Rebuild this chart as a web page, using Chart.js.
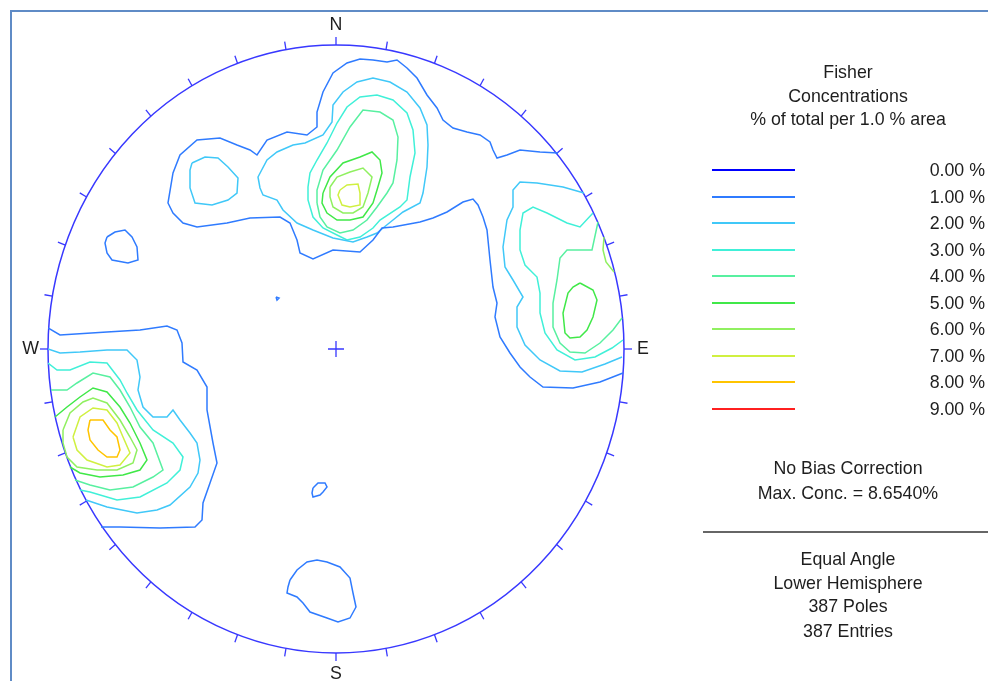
<!DOCTYPE html>
<html>
<head>
<meta charset="utf-8">
<title>Fisher Concentrations</title>
<script src="https://cdn.jsdelivr.net/npm/chart.js@4.4.0/dist/chart.umd.min.js"></script>
<style>
  html, body { margin: 0; padding: 0; background: #ffffff; }
  #wrap { position: relative; width: 988px; height: 681px; overflow: hidden;
          font-family: "Liberation Sans", Arial, sans-serif; color: #1e1e1e; }
  #frame { position: absolute; left: 10px; top: 10px; width: 1200px; height: 900px;
           border-left: 2px solid #5f8bc6; border-top: 2px solid #5f8bc6; }
  #net { position: absolute; left: 0; top: 0; }
  .t { position: absolute; font-size: 17.8px; line-height: 22px; white-space: nowrap; }
  .c { width: 300px; left: 698px; text-align: center; }
  .lab { right: 3px; text-align: right; }
  .swatch { position: absolute; left: 712px; width: 83px; height: 2px; }
  #sep { position: absolute; left: 703px; top: 531px; width: 285px; height: 2px; background: #666; }
</style>
</head>
<body>
<div id="wrap">
  <div id="frame"></div>
  <canvas id="net" width="988" height="681"></canvas>
  <div class="t c" style="top:61px">Fisher</div>
  <div class="t c" style="top:85px">Concentrations</div>
  <div class="t c" style="top:108px">% of total per 1.0 % area</div>
  <div id="legend"></div>
  <div class="t c" style="top:457px">No Bias Correction</div>
  <div class="t c" style="top:482px">Max. Conc. = 8.6540%</div>
  <div id="sep"></div>
  <div class="t c" style="top:548px">Equal Angle</div>
  <div class="t c" style="top:572px">Lower Hemisphere</div>
  <div class="t c" style="top:595px">387 Poles</div>
  <div class="t c" style="top:620px">387 Entries</div>
</div>
<script>
// Contour levels (% of total per 1.0 % area) and their line colours
const levelLabels = ['0.00 %', '1.00 %', '2.00 %', '3.00 %', '4.00 %', '5.00 %', '6.00 %', '7.00 %', '8.00 %', '9.00 %'];
const levelColors = ['#0000ff', '#2f7bff', '#40c8f8', '#40f0d8', '#58f0a0', '#40e848', '#90f060', '#d0f040', '#ffc400', '#ff2020'];

// Projected net extent (east-west and north-south radius of the primitive)
const NET_RX = 288;
const NET_RY = 304;

// Contour traces in projected net units (x east, y north), open traces end on the primitive
const c1NorthEast = [[222,196],[204,197],[184,199],[171,194],[161,191],[157,199],[154,207],[144,214],[131,217],[117,221],[107,229],[101,241],[91,254],[81,271],[71,281],[61,289],[51,287],[37,289],[24,290],[11,286],[-3,276],[-13,257],[-19,237],[-19,222],[-29,214],[-49,217],[-69,209],[-79,194],[-86,199],[-99,204],[-116,211],[-139,209],[-156,194],[-163,176],[-168,146],[-163,136],[-153,126],[-139,122],[-109,126],[-86,131],[-56,132],[-46,126],[-39,109],[-36,96],[-23,90],[-3,99],[24,97],[37,109],[46,121],[57,122],[84,127],[97,131],[111,137],[127,147],[137,150],[142,144],[147,132],[151,119],[154,89],[157,62],[161,46],[159,32],[164,12],[174,-4],[184,-18],[194,-28],[207,-38],[237,-39],[264,-33],[287,-24]];
const c1West = [[-288,21],[-276,14],[-229,17],[-196,19],[-169,23],[-159,19],[-154,6],[-153,-13],[-139,-21],[-129,-38],[-129,-61],[-123,-94],[-119,-114],[-126,-134],[-133,-154],[-134,-171],[-141,-178],[-176,-179],[-216,-178],[-235,-178]];
const c1NorthWestSmall = [[-229,112],[-221,117],[-211,119],[-204,112],[-199,102],[-198,89],[-208,86],[-224,89],[-229,96],[-231,106],[-229,112]];
const c1CentreDot = [[-60,52],[-57,51],[-59,49],[-60,52]];
const c1SouthSmall = [[-23,-139],[-18,-134],[-11,-134],[-9,-138],[-13,-143],[-16,-146],[-23,-148],[-24,-144],[-23,-139]];
const c1South = [[-46,-231],[-39,-221],[-29,-213],[-19,-211],[-9,-213],[4,-218],[14,-229],[17,-244],[20,-258],[14,-269],[2,-273],[-9,-269],[-26,-263],[-33,-254],[-39,-248],[-49,-244],[-48,-238],[-46,-231]];

const c2NorthWest = [[-144,186],[-131,192],[-118,191],[-108,182],[-98,171],[-99,156],[-108,149],[-124,144],[-141,146],[-146,161],[-146,179],[-144,186]];
const c2North = [[-76,161],[-78,172],[-69,189],[-59,197],[-43,204],[-31,206],[-13,214],[-4,227],[-3,244],[7,257],[21,267],[37,271],[54,267],[71,257],[84,241],[91,224],[92,204],[91,182],[87,156],[84,146],[67,137],[57,129],[47,121],[41,116],[31,112],[17,107],[-3,111],[-23,119],[-39,126],[-53,139],[-59,149],[-73,154],[-76,161]];
const c2East = [[248,156],[227,162],[201,166],[184,167],[177,159],[177,142],[171,129],[167,102],[169,82],[177,69],[187,52],[181,42],[181,22],[189,4],[204,-11],[224,-22],[246,-23],[269,-15],[286,-8]];
const c2West = [[-288,0],[-276,-4],[-256,-3],[-229,-1],[-209,-1],[-199,-11],[-196,-28],[-198,-41],[-193,-58],[-183,-68],[-169,-68],[-163,-61],[-156,-71],[-146,-84],[-139,-94],[-136,-111],[-138,-124],[-146,-138],[-166,-156],[-179,-161],[-199,-164],[-229,-158],[-250,-151]];

const c3North = [[-28,162],[-26,176],[-19,189],[-9,206],[1,226],[11,242],[24,252],[41,254],[57,249],[71,236],[77,219],[79,196],[74,172],[71,149],[64,142],[44,129],[37,121],[24,112],[11,109],[1,114],[-13,121],[-23,132],[-28,149],[-28,162]];
const c3East = [[257,136],[244,122],[231,126],[211,136],[197,142],[187,136],[184,119],[184,99],[189,84],[201,72],[204,56],[204,36],[209,16],[221,-1],[239,-11],[259,-8],[276,1],[287,9]];
const c3West = [[-288,-14],[-279,-21],[-266,-21],[-246,-13],[-229,-14],[-216,-31],[-209,-44],[-199,-61],[-183,-81],[-163,-94],[-153,-108],[-156,-121],[-169,-134],[-196,-148],[-219,-151],[-246,-143],[-256,-141]];

const c4North = [[-19,146],[-19,159],[-13,179],[1,199],[14,222],[27,239],[44,237],[57,229],[62,212],[61,189],[57,166],[51,156],[41,142],[31,129],[17,119],[4,116],[-9,122],[-16,132],[-19,146]];
const c4East = [[262,127],[256,99],[231,99],[224,91],[221,69],[217,46],[217,22],[224,6],[234,-3],[249,-4],[264,6],[277,19],[286,31]];
const c4West = [[-285,-41],[-269,-41],[-259,-34],[-243,-24],[-226,-28],[-216,-41],[-206,-58],[-196,-78],[-183,-94],[-173,-121],[-183,-128],[-203,-138],[-226,-141],[-246,-136],[-261,-131]];

const c5North = [[-13,156],[-6,172],[7,186],[24,192],[36,197],[44,189],[46,176],[41,159],[37,146],[27,132],[14,129],[1,129],[-9,136],[-14,146],[-13,156]];
const c5East = [[244,66],[257,59],[261,49],[257,32],[251,19],[244,12],[234,11],[229,16],[227,36],[232,56],[237,62],[244,66]];
const c5West = [[-281,-68],[-269,-58],[-256,-48],[-243,-39],[-229,-43],[-216,-58],[-206,-74],[-196,-94],[-189,-111],[-196,-121],[-213,-126],[-236,-128],[-256,-124],[-266,-118]];

const c6North = [[-6,162],[1,172],[14,177],[27,181],[36,172],[32,156],[27,142],[17,136],[7,136],[-3,142],[-6,152],[-6,162]];
const c6East = [[268,112],[267,99],[270,87],[278,77]];
const c6West = [[-273,-81],[-266,-64],[-253,-53],[-243,-49],[-229,-54],[-216,-71],[-206,-88],[-199,-101],[-203,-114],[-219,-121],[-239,-121],[-259,-118],[-269,-108],[-273,-94],[-273,-81]];

const c7North = [[4,159],[11,164],[22,165],[24,156],[24,144],[14,142],[6,144],[2,154],[4,159]];
const c7West = [[-263,-88],[-256,-68],[-243,-59],[-229,-61],[-219,-74],[-213,-88],[-206,-104],[-216,-116],[-229,-118],[-249,-111],[-259,-101],[-263,-88]];

const c8West = [[-246,-71],[-233,-71],[-226,-81],[-219,-88],[-216,-101],[-219,-108],[-229,-108],[-238,-101],[-246,-91],[-248,-81],[-246,-71]];

const contours = [
  { level: 1, pts: c1NorthEast }, { level: 1, pts: c1West }, { level: 1, pts: c1NorthWestSmall },
  { level: 1, pts: c1CentreDot }, { level: 1, pts: c1SouthSmall }, { level: 1, pts: c1South },
  { level: 2, pts: c2NorthWest }, { level: 2, pts: c2North }, { level: 2, pts: c2East }, { level: 2, pts: c2West },
  { level: 3, pts: c3North }, { level: 3, pts: c3East }, { level: 3, pts: c3West },
  { level: 4, pts: c4North }, { level: 4, pts: c4East }, { level: 4, pts: c4West },
  { level: 5, pts: c5North }, { level: 5, pts: c5East }, { level: 5, pts: c5West },
  { level: 6, pts: c6North }, { level: 6, pts: c6East }, { level: 6, pts: c6West },
  { level: 7, pts: c7North }, { level: 7, pts: c7West },
  { level: 8, pts: c8West }
];

// Legend rows on the right-hand panel
const legend = document.getElementById('legend');
levelLabels.forEach((lab, i) => {
  const top = 170 + i * 26.5;
  const sw = document.createElement('div');
  sw.className = 'swatch';
  sw.style.top = (top - 1) + 'px';
  sw.style.background = levelColors[i];
  legend.appendChild(sw);
  const tx = document.createElement('div');
  tx.className = 't lab';
  tx.style.top = (top - 11) + 'px';
  tx.textContent = lab;
  legend.appendChild(tx);
});

// Primitive circle, 10-degree ticks, centre cross and compass letters
const netPlugin = {
  id: 'stereonet',
  beforeDatasetsDraw(chart) {
    const { ctx, scales: { x, y } } = chart;
    const cx = x.getPixelForValue(0), cy = y.getPixelForValue(0);
    const rx = x.getPixelForValue(NET_RX) - cx, ry = cy - y.getPixelForValue(NET_RY);
    ctx.save();
    ctx.strokeStyle = '#3838ff';
    ctx.lineWidth = 1.5;
    ctx.beginPath();
    ctx.ellipse(cx, cy, rx, ry, 0, 0, Math.PI * 2);
    ctx.stroke();
    ctx.lineWidth = 1.3;
    for (let a = 0; a < 360; a += 10) {
      const t = a * Math.PI / 180;
      const px = cx + rx * Math.sin(t), py = cy - ry * Math.cos(t);
      let dx = px - cx, dy = py - cy;
      const len = Math.hypot(dx, dy);
      dx /= len; dy /= len;
      ctx.beginPath();
      ctx.moveTo(px, py);
      ctx.lineTo(px + dx * 8, py + dy * 8);
      ctx.stroke();
    }
    ctx.beginPath();
    ctx.moveTo(cx - 8, cy); ctx.lineTo(cx + 8, cy);
    ctx.moveTo(cx, cy - 8); ctx.lineTo(cx, cy + 8);
    ctx.stroke();
    ctx.restore();
  },
  afterDraw(chart) {
    const { ctx, scales: { x, y } } = chart;
    const cx = x.getPixelForValue(0), cy = y.getPixelForValue(0);
    const rx = x.getPixelForValue(NET_RX) - cx, ry = cy - y.getPixelForValue(NET_RY);
    ctx.save();
    ctx.fillStyle = '#1e1e1e';
    ctx.font = '17.8px "Liberation Sans", Arial, sans-serif';
    ctx.textBaseline = 'middle';
    ctx.textAlign = 'center';
    ctx.fillText('N', cx, cy - ry - 20);
    ctx.fillText('S', cx, cy + ry + 21);
    ctx.textAlign = 'right';
    ctx.fillText('W', cx - rx - 9, cy);
    ctx.textAlign = 'left';
    ctx.fillText('E', cx + rx + 13, cy);
    ctx.restore();
  }
};

new Chart(document.getElementById('net'), {
  type: 'scatter',
  data: {
    datasets: contours.map(c => ({
      label: levelLabels[c.level],
      data: c.pts.map(p => ({ x: p[0], y: p[1] })),
      showLine: true,
      borderColor: levelColors[c.level],
      borderWidth: 1.5,
      pointRadius: 0,
      pointHoverRadius: 0,
      fill: false,
      tension: 0
    }))
  },
  options: {
    responsive: false,
    animation: false,
    devicePixelRatio: 1,
    layout: { padding: { left: 48, right: 364, top: 45, bottom: 28 } },
    scales: {
      x: { type: 'linear', min: -NET_RX, max: NET_RX, display: false },
      y: { type: 'linear', min: -NET_RY, max: NET_RY, display: false }
    },
    plugins: { legend: { display: false }, tooltip: { enabled: false } },
    events: []
  },
  plugins: [netPlugin]
});
</script>
</body>
</html>
